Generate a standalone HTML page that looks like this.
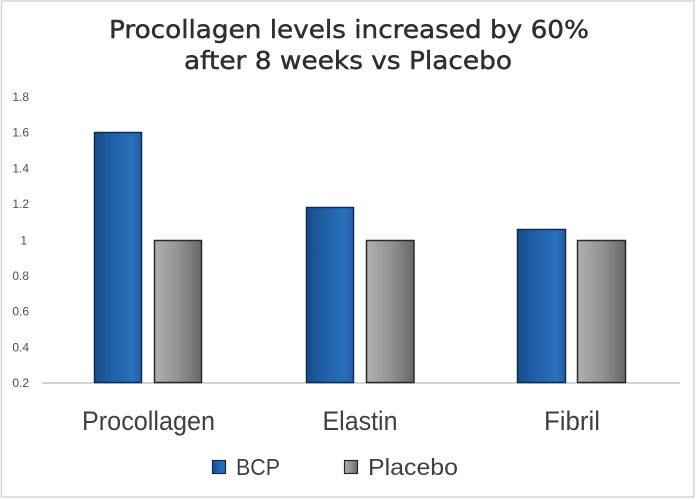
<!DOCTYPE html>
<html>
<head>
<meta charset="utf-8">
<style>
  html, body { margin: 0; padding: 0; background: #ffffff; }
  svg { display: block; }
</style>
</head>
<body>
<svg width="696" height="500" viewBox="0 0 696 500" xmlns="http://www.w3.org/2000/svg">
  <defs>
    <linearGradient id="blue" x1="0" y1="0" x2="1" y2="0">
      <stop offset="0" stop-color="#184b88"/>
      <stop offset="0.35" stop-color="#1f5fa6"/>
      <stop offset="0.8" stop-color="#2970bd"/>
      <stop offset="1" stop-color="#2060a8"/>
    </linearGradient>
    <linearGradient id="gray" x1="0" y1="0" x2="1" y2="0">
      <stop offset="0" stop-color="#b0b0b0"/>
      <stop offset="0.5" stop-color="#939393"/>
      <stop offset="1" stop-color="#686868"/>
    </linearGradient>
  </defs>

  <rect x="0" y="0" width="696" height="500" fill="#ffffff"/>
  <rect x="1.5" y="1" width="692.5" height="496" fill="none" stroke="#d6d6d6" stroke-width="1.5"/>

  <!-- Title -->
  <g font-family="DejaVu Sans, Liberation Sans, sans-serif" font-size="25" fill="#2e2e2e" stroke="#2e2e2e" stroke-width="0.45">
    <text x="109" y="38" textLength="480" lengthAdjust="spacingAndGlyphs">Procollagen levels increased by 60%</text>
    <text x="184" y="69" textLength="328" lengthAdjust="spacingAndGlyphs">after 8 weeks vs Placebo</text>
  </g>

  <!-- Y tick labels -->
  <g font-family="Liberation Sans, sans-serif" font-size="12" fill="#505050" text-anchor="end">
    <text x="29" y="100.8">1.8</text>
    <text x="29" y="136.6">1.6</text>
    <text x="29" y="172.4">1.4</text>
    <text x="29" y="208.2">1.2</text>
    <text x="27" y="244.7">1</text>
    <text x="29" y="279.8">0.8</text>
    <text x="29" y="315.6">0.6</text>
    <text x="29" y="351.4">0.4</text>
    <text x="29" y="387.2">0.2</text>
  </g>

  <!-- Axis line -->
  <line x1="42" y1="383" x2="680" y2="383" stroke="#d4d4d4" stroke-width="2"/>

  <!-- Bars -->
  <g stroke-width="1.5">
    <rect x="94.5" y="132.5" width="47" height="250" fill="url(#blue)" stroke="#0e2d55"/>
    <rect x="154.5" y="240.5" width="47" height="142" fill="url(#gray)" stroke="#2a2a2a"/>

    <rect x="306.5" y="207.5" width="47" height="175" fill="url(#blue)" stroke="#0e2d55"/>
    <rect x="366.5" y="240.5" width="47.5" height="142" fill="url(#gray)" stroke="#2a2a2a"/>

    <rect x="517.5" y="229.5" width="48" height="153" fill="url(#blue)" stroke="#0e2d55"/>
    <rect x="577.5" y="240.5" width="48" height="142" fill="url(#gray)" stroke="#2a2a2a"/>
  </g>

  <!-- Category labels -->
  <g font-family="Liberation Sans, sans-serif" font-size="27" fill="#404040">
    <text x="82" y="430" textLength="133" lengthAdjust="spacingAndGlyphs">Procollagen</text>
    <text x="322.5" y="430" textLength="75" lengthAdjust="spacingAndGlyphs">Elastin</text>
    <text x="544" y="430" textLength="56" lengthAdjust="spacingAndGlyphs">Fibril</text>
  </g>

  <!-- Legend -->
  <rect x="212.5" y="460.5" width="13" height="13" fill="url(#blue)" stroke="#0e2d55" stroke-width="1.2"/>
  <rect x="344.5" y="460.5" width="13" height="13" fill="url(#gray)" stroke="#2a2a2a" stroke-width="1.2"/>
  <g font-family="Liberation Sans, sans-serif" font-size="23" fill="#404040">
    <text x="236" y="475" textLength="44" lengthAdjust="spacingAndGlyphs">BCP</text>
    <text x="368" y="475" textLength="90" lengthAdjust="spacingAndGlyphs">Placebo</text>
  </g>
</svg>
</body>
</html>
